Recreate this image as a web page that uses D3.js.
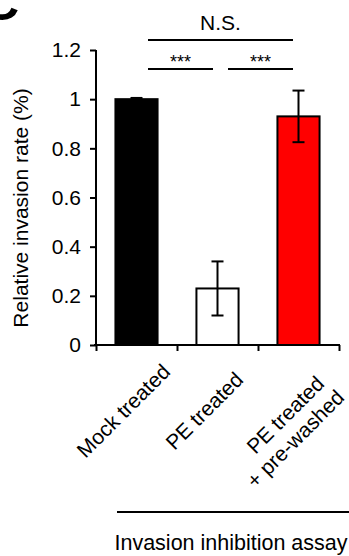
<!DOCTYPE html>
<html><head><meta charset="utf-8">
<script src="https://cdn.jsdelivr.net/npm/d3@7"></script>
<style>html,body{margin:0;padding:0;background:#fff;}svg{display:block;}</style>
</head><body>
<svg id="c" width="349" height="556"></svg>
<script>
const categories = ["Mock treated", "PE treated", "PE treated\n+ pre-washed"];
const values = [1.0, 0.23, 0.93];
const errors = [0.005, 0.11, 0.105];
const colors = ["#000000", "#ffffff", "#ff0000"];
const yTicks = [0, 0.2, 0.4, 0.6, 0.8, 1, 1.2];
const yTickLabels = ["0", "0.2", "0.4", "0.6", "0.8", "1", "1.2"];
const yLabel = "Relative invasion rate (%)";
const xTitle = "Invasion inhibition assay";
const sigLabels = ["***", "***", "N.S."];

const font = "Liberation Sans, Arial, Helvetica, sans-serif";
const svg = d3.select("#c");
const x = d3.scaleBand().domain(d3.range(categories.length)).range([96, 339]).paddingInner(0.48).paddingOuter(0.24);
const y = d3.scaleLinear().domain([0, 1.2]).range([345, 50]);

// panel letter fragment
svg.append("text").attr("x", -17).attr("y", 20).attr("font-family", font).attr("font-weight", "bold")
  .attr("font-size", 50).text("C");

// y axis
const yAxis = svg.append("g").attr("transform", "translate(96,0)")
  .call(d3.axisLeft(y).tickValues(yTicks).tickFormat((d, i) => yTickLabels[i]).tickSize(6).tickPadding(9));
yAxis.select(".domain").attr("d", `M0,${y(1.2)}V${y(0)}`).attr("stroke-width", 2);
yAxis.selectAll(".tick line").attr("stroke-width", 2);
yAxis.selectAll("text").attr("font-family", font).attr("font-size", 21).attr("fill", "#000");

// x axis with ticks at band edges
const xEdge = d3.scaleLinear().domain([0, 3]).range([96, 339]);
const xAxis = svg.append("g").attr("transform", "translate(0,345)")
  .call(d3.axisBottom(xEdge).tickValues([0, 1, 2, 3]).tickFormat("").tickSize(6).tickSizeOuter(0));
xAxis.select(".domain").attr("d", `M94,0H340`).attr("stroke-width", 2);
xAxis.selectAll(".tick line").attr("stroke-width", 2);

// bars
svg.selectAll("rect.bar").data(values).join("rect").attr("class", "bar")
  .attr("x", (d, i) => x(i)).attr("width", x.bandwidth())
  .attr("y", d => y(d)).attr("height", d => y(0) - y(d))
  .attr("fill", (d, i) => colors[i]).attr("stroke", "#000").attr("stroke-width", 2);

// error bars
const eb = svg.append("g").attr("stroke", "#000").attr("stroke-width", 2);
values.forEach((v, i) => {
  const cx = x(i) + x.bandwidth() / 2;
  eb.append("line").attr("x1", cx).attr("x2", cx).attr("y1", y(v + errors[i])).attr("y2", y(v - errors[i]));
  [v + errors[i], v - errors[i]].forEach(e => {
    eb.append("line").attr("x1", cx - 6).attr("x2", cx + 6).attr("y1", y(e)).attr("y2", y(e));
  });
});

// significance brackets
const sig = [
  {x1: 148, x2: 213, y: 69, ty: 68, fs: 18, lab: sigLabels[0]},
  {x1: 228, x2: 293, y: 69, ty: 68, fs: 18, lab: sigLabels[1]},
  {x1: 148, x2: 293, y: 40, ty: 30, fs: 21, lab: sigLabels[2]}
];
sig.forEach(s => {
  svg.append("line").attr("x1", s.x1).attr("x2", s.x2).attr("y1", s.y).attr("y2", s.y)
    .attr("stroke", "#000").attr("stroke-width", 2);
  svg.append("text").attr("x", (s.x1 + s.x2) / 2).attr("y", s.ty).attr("text-anchor", "middle")
    .attr("font-family", font).attr("font-size", s.fs).text(s.lab);
});

// y label
svg.append("text").attr("transform", "translate(28,208) rotate(-90)").attr("text-anchor", "middle")
  .attr("font-family", font).attr("font-size", 21).text(yLabel);

// x labels rotated
categories.forEach((c, i) => {
  const cx = x(i) + x.bandwidth() / 2;
  const lines = c.split("\n");
  const g = svg.append("g").attr("transform", `translate(${cx - 8},${lines.length > 1 ? 420 : 416}) rotate(-45)`);
  const t = g.append("text").attr("text-anchor", "middle")
    .attr("font-family", font).attr("font-size", 21);
  lines.forEach((l, j) => {
    t.append("tspan").attr("x", j === 0 ? 0 : -10).attr("dy", j === 0 ? 0 : 24).text(l);
  });
});

// bottom bracket line + title
svg.append("line").attr("x1", 117).attr("x2", 349).attr("y1", 512).attr("y2", 512).attr("stroke", "#000").attr("stroke-width", 2);
svg.append("text").attr("x", 231).attr("y", 549.5).attr("text-anchor", "middle")
  .attr("font-family", font).attr("font-size", 21.5).text(xTitle);
</script>
</body></html>
